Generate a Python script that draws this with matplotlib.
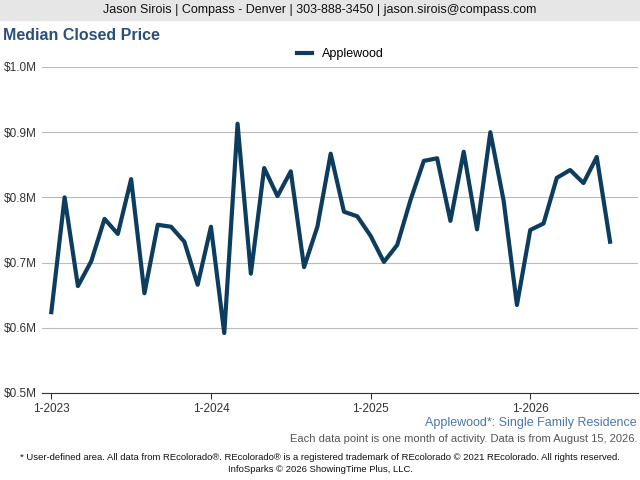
import matplotlib
matplotlib.use("Agg")
import matplotlib.pyplot as plt
import numpy as np

values = [0.624,0.800,0.664,0.702,0.767,0.744,0.828,0.653,0.758,0.755,0.732,0.666,
          0.755,0.592,0.913,0.683,0.845,0.802,0.840,0.693,0.755,0.867,0.778,0.771,
          0.741,0.701,0.727,0.796,0.856,0.860,0.764,0.870,0.751,0.900,0.795,0.635,
          0.750,0.760,0.830,0.842,0.822,0.862,0.732]
tick_labels = ["1-2023","1-2024","1-2025","1-2026"]
yticks = [0.5,0.6,0.7,0.8,0.9,1.0]
ylabels = ["$0.5M","$0.6M","$0.7M","$0.8M","$0.9M","$1.0M"]

plt.rcParams['font.family'] = ['Liberation Sans','DejaVu Sans']
fig = plt.figure(figsize=(6.4,4.8), dpi=100)
W,H = 640,480
ax = fig.add_axes([42/W, 1-393/H, (638-42)/W, (393-67)/H])
x = np.arange(len(values))
ax.plot(x, values, color='#0d3d5e', lw=3.0, solid_joinstyle='round')
ax.set_ylim(0.5,1.0)
ax.set_xlim(-0.7, 44.1)
ax.set_yticks(yticks)
ax.set_yticklabels(ylabels, fontsize=8.5, color='#333333')
ax.set_xticks([0,12,24,36])
ax.set_xticklabels(tick_labels, fontsize=8.5, color='#333333')
ax.grid(axis='y', color='#bbbbbb', lw=0.8)
for s in ['top','right','left']:
    ax.spines[s].set_visible(False)
ax.spines['bottom'].set_color('#333333')
ax.tick_params(axis='y', length=0, pad=4)
ax.tick_params(axis='x', length=4, color='#333333', pad=3)
ax.legend(['Applewood'], loc='center', bbox_to_anchor=(0.5, 1+(67-54)/326), frameon=False,
          handlelength=1.2, prop={'size':9})

fig.patches.append(plt.Rectangle((0,1-20/H),1,20/H, transform=fig.transFigure, color='#e6e6e6', zorder=0))
fig.text(0.5, 1-10/H, "Jason Sirois | Compass - Denver | 303-888-3450 | jason.sirois@compass.com",
         ha='center', va='center', fontsize=9, color='#111111')
fig.text(3/W, 1-35/H, "Median Closed Price", ha='left', va='center', fontsize=11.5,
         fontweight='bold', color='#2b4f78')
fig.text(637/W, 1-423/H, "Applewood*: Single Family Residence", ha='right', va='center',
         fontsize=9, color='#4a78a8')
fig.text(637/W, 1-439/H, "Each data point is one month of activity. Data is from August 15, 2026.",
         ha='right', va='center', fontsize=8, color='#555555')
fig.text(0.5, 1-457/H, "* User-defined area. All data from REcolorado®. REcolorado® is a registered trademark of REcolorado © 2021 REcolorado. All rights reserved.",
         ha='center', va='center', fontsize=6.8, color='#111111')
fig.text(0.5, 1-469/H, "InfoSparks © 2026 ShowingTime Plus, LLC.", ha='center', va='center',
         fontsize=6.8, color='#111111')
fig.savefig("out.png", dpi=100)
